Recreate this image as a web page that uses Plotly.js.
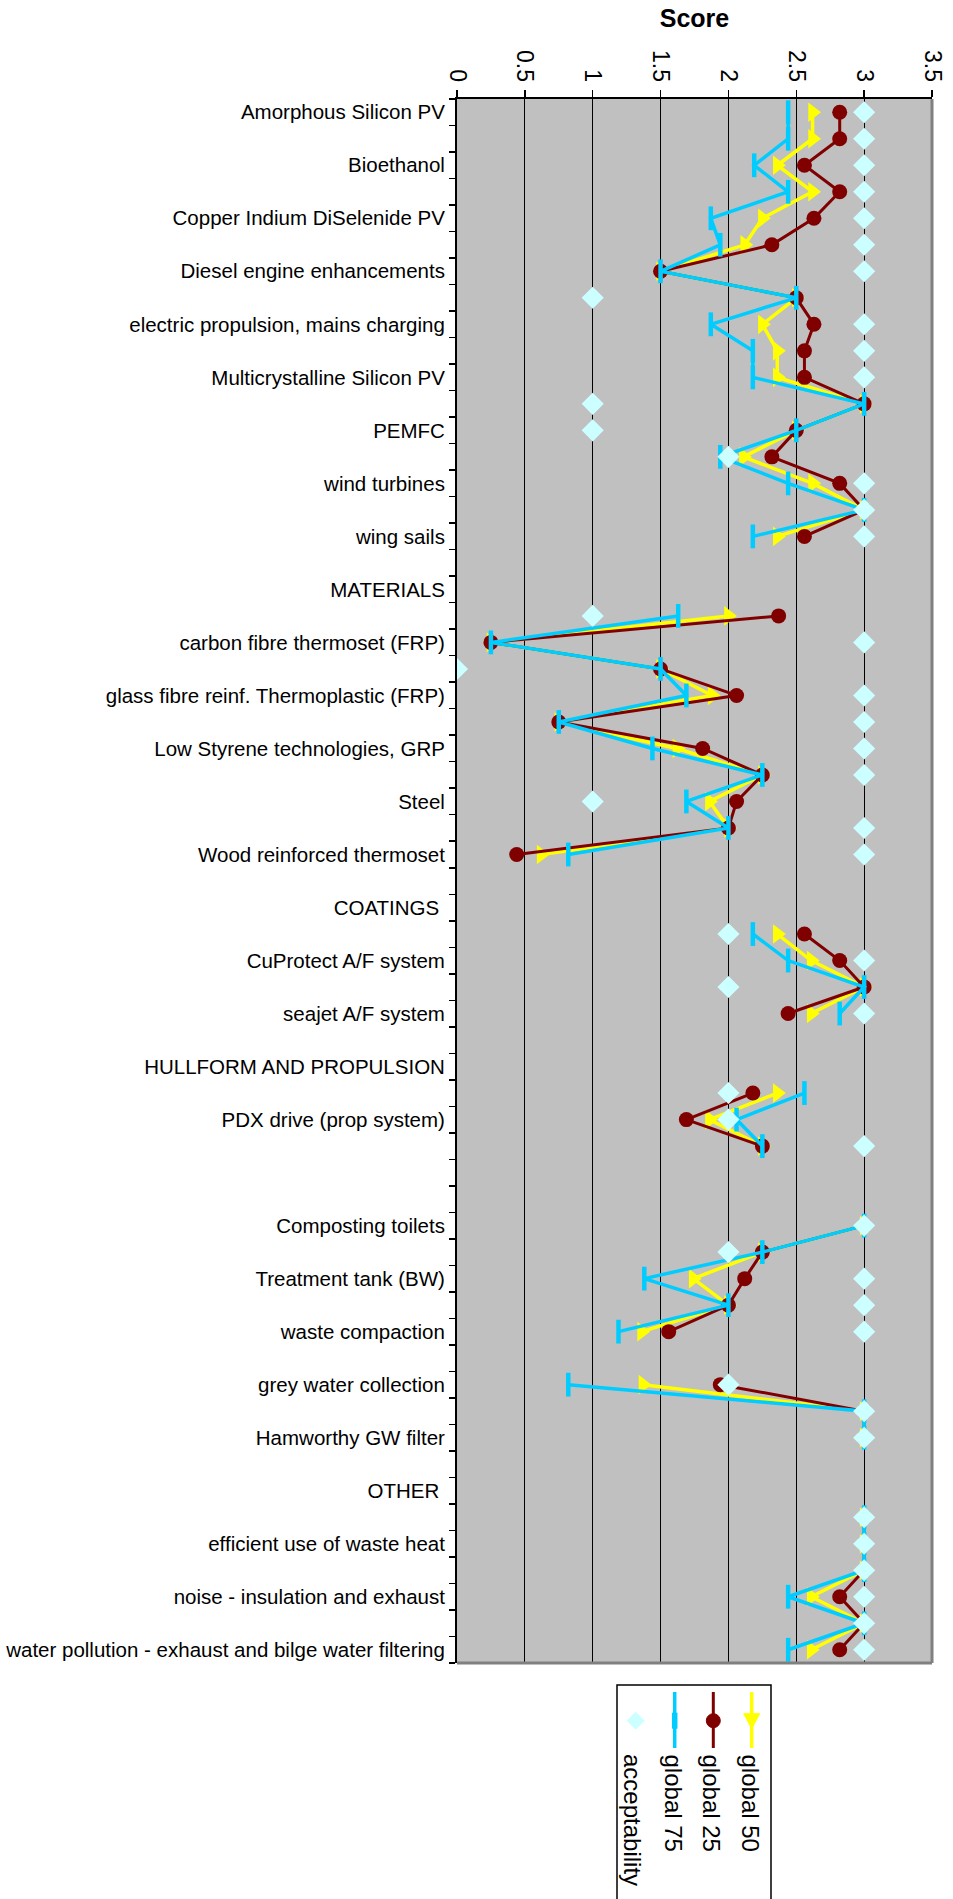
<!DOCTYPE html>
<html>
<head>
<meta charset="utf-8">
<script src="https://cdn.plot.ly/plotly-3.0.1.min.js"></script>
<style>html,body{margin:0;padding:0;background:#fff;}#chart{width:953px;height:1899px;}</style>
</head>
<body>
<div id="chart"></div>
<script>
// Category labels (every other category carries a visible label)
const categories = [
  "Amorphous Silicon PV", "",
  "Bioethanol", "",
  "Copper Indium DiSelenide PV", "",
  "Diesel engine enhancements", "",
  "electric propulsion, mains charging", "",
  "Multicrystalline Silicon PV", "",
  "PEMFC", "",
  "wind turbines", "",
  "wing sails", "",
  "MATERIALS", "",
  "carbon fibre thermoset (FRP)", "",
  "glass fibre reinf. Thermoplastic (FRP)", "",
  "Low Styrene technologies, GRP", "",
  "Steel", "",
  "Wood reinforced thermoset", "",
  "COATINGS ", "",
  "CuProtect A/F system", "",
  "seajet A/F system", "",
  "HULLFORM AND PROPULSION", "",
  "PDX drive (prop system)", "",
  "", "",
  "Composting toilets", "",
  "Treatment tank (BW)", "",
  "waste compaction", "",
  "grey water collection", "",
  "Hamworthy GW filter", "",
  "OTHER ", "",
  "efficient use of waste heat", "",
  "noise - insulation and exhaust", "",
  "water pollution - exhaust and bilge water filtering"
];

const global50 = [2.62,2.62,2.36,2.62,2.25,2.12,1.5,2.5,2.25,2.36,
                  2.36,3,2.5,2.11,2.62,3,2.36,null,null,2.0,
                  0.25,1.5,1.88,0.75,1.62,2.25,1.86,2.0,0.62,null,
                  null,2.36,2.61,3,2.61,null,null,2.36,1.86,2.25,
                  null,null,3,2.25,1.74,2.0,1.36,null,1.37,3,
                  3,null,null,3,3,3,2.61,3,2.61];
const global25 = [2.82,2.82,2.56,2.82,2.63,2.32,1.5,2.5,2.63,2.56,
                  2.56,3,2.5,2.32,2.82,3,2.56,null,null,2.37,
                  0.25,1.5,2.06,0.75,1.81,2.25,2.06,2.0,0.44,null,
                  null,2.56,2.82,3,2.44,null,null,2.18,1.69,2.25,
                  null,null,3,2.25,2.12,2.0,1.56,null,1.94,3,
                  3,null,null,3,3,3,2.82,3,2.82];
const global75 = [2.44,2.44,2.19,2.44,1.87,1.94,1.5,2.5,1.87,2.18,
                  2.18,3,2.5,1.94,2.44,3,2.18,null,null,1.63,
                  0.25,1.5,1.69,0.75,1.44,2.25,1.69,2.0,0.82,null,
                  null,2.18,2.44,3,2.82,null,null,2.56,2.06,2.25,
                  null,null,3,2.25,1.38,2.0,1.19,null,0.82,3,
                  3,null,null,3,3,3,2.44,3,2.44];
const acceptability = [3,3,3,3,3,3,3,1,3,3,
                       3,1,1,2,3,3,3,null,null,1,
                       3,0,3,3,3,3,1,3,3,null,
                       null,2,3,2,3,null,null,2,2,3,
                       null,null,3,2,3,3,3,null,2,3,
                       3,null,null,3,3,3,3,3,3];
const seriesNames = ["global 50", "global 25", "global 75", "acceptability"];
const xTickValues = [0, 0.5, 1, 1.5, 2, 2.5, 3, 3.5];

const rows = categories.map((_, i) => i);
const labelIdx = rows.filter(i => categories[i] !== "");

const COL50 = "#FFFF00", COL25 = "#800000", COL75 = "#00CCFF", COLACC = "#CCFFFF";

const traces = [
  {x: global50, y: rows, name: seriesNames[0], type: "scatter", mode: "lines+markers",
   line: {color: COL50, width: 3.5}, marker: {symbol: "triangle-right", size: 17, color: COL50}},
  {x: global25, y: rows, name: seriesNames[1], type: "scatter", mode: "lines+markers",
   line: {color: COL25, width: 3}, marker: {symbol: "circle", size: 15, color: COL25}},
  {x: global75, y: rows, name: seriesNames[2], type: "scatter", mode: "lines+markers",
   line: {color: COL75, width: 3.5}, marker: {symbol: "line-ns", size: 17, color: COL75, line: {color: COL75, width: 4.5}}},
  {x: acceptability, y: rows, name: seriesNames[3], type: "scatter", mode: "markers",
   marker: {symbol: "diamond", size: 17, color: COLACC}}
];

const W = 953, H = 1899, L = 457, R = 21, T = 99, B = 236;
const PW = W - L - R, PH = H - T - B;
const px = v => (v - L) / PW;
const py = v => 1 - (v - T) / PH;

const shapes = [
  {type: "line", xref: "paper", yref: "paper", x0: 1, x1: 1, y0: 0, y1: 1, line: {color: "#808080", width: 3}},
  {type: "line", xref: "paper", yref: "paper", x0: 0, x1: 1, y0: 0, y1: 0, line: {color: "#808080", width: 3}},
  // legend box
  {type: "rect", xref: "paper", yref: "paper", x0: px(617), x1: px(771), y0: py(1685), y1: py(1910),
   line: {color: "#000", width: 1.5}, fillcolor: "#fff", layer: "above"}
];
const annotations = [];
const legX = [751.7, 713.3, 674.7, 635.7];
const legTextX = [750, 711, 673, 633];
const symY = 1720.7;
// legend glyphs
shapes.push({type: "line", xref: "paper", yref: "paper", x0: px(legX[0]), x1: px(legX[0]), y0: py(1692), y1: py(1748), line: {color: COL50, width: 3.5}, layer: "above"});
shapes.push({type: "path", xref: "paper", yref: "paper", layer: "above", fillcolor: COL50, line: {color: COL50, width: 1},
  path: `M ${px(legX[0]-8)} ${py(symY-7)} L ${px(legX[0]+8)} ${py(symY-7)} L ${px(legX[0])} ${py(symY+8)} Z`});
shapes.push({type: "line", xref: "paper", yref: "paper", x0: px(legX[1]), x1: px(legX[1]), y0: py(1692), y1: py(1748), line: {color: COL25, width: 3}, layer: "above"});
shapes.push({type: "circle", xref: "paper", yref: "paper", layer: "above", fillcolor: COL25, line: {color: COL25, width: 1},
  x0: px(legX[1]-7), x1: px(legX[1]+7), y0: py(symY-7), y1: py(symY+7)});
shapes.push({type: "line", xref: "paper", yref: "paper", x0: px(legX[2]), x1: px(legX[2]), y0: py(1692), y1: py(1748), line: {color: COL75, width: 3.5}, layer: "above"});
shapes.push({type: "line", xref: "paper", yref: "paper", x0: px(legX[2]), x1: px(legX[2]), y0: py(symY-8), y1: py(symY+8), line: {color: COL75, width: 5.5}, layer: "above"});
shapes.push({type: "path", xref: "paper", yref: "paper", layer: "above", fillcolor: COLACC, line: {color: COLACC, width: 1},
  path: `M ${px(legX[3])} ${py(symY-8.5)} L ${px(legX[3]+8.5)} ${py(symY)} L ${px(legX[3])} ${py(symY+8.5)} L ${px(legX[3]-8.5)} ${py(symY)} Z`});
seriesNames.forEach((n, i) => {
  annotations.push({text: n, xref: "paper", yref: "paper", x: px(legTextX[i]), y: py(1752),
    xanchor: "center", yanchor: "top", textangle: 90, showarrow: false,
    font: {family: "Liberation Sans, Arial, sans-serif", size: 24, color: "#000"}});
});

const layout = {
  width: W, height: H,
  margin: {l: L, r: R, t: T, b: B, pad: 0},
  paper_bgcolor: "#fff",
  plot_bgcolor: "#C0C0C0",
  showlegend: false,
  font: {family: "Liberation Sans, Arial, sans-serif", color: "#000"},
  title: {text: "<b>Score</b>", x: (L + PW / 2) / W, xanchor: "center", y: 1 - 18 / H, yanchor: "middle",
          font: {size: 25, color: "#000"}},
  xaxis: {
    side: "top", range: [0, 3.5], tickvals: xTickValues, ticktext: xTickValues.map(String),
    tickangle: 90, ticks: "outside", ticklen: 7, tickcolor: "#000", tickwidth: 1.5,
    tickfont: {size: 23, color: "#000"},
    showgrid: true, gridcolor: "#000", gridwidth: 1, zeroline: false,
    showline: true, linecolor: "#000", linewidth: 2, fixedrange: true
  },
  yaxis: {
    range: [categories.length - 0.5, -0.5],
    tickmode: "array", tickvals: labelIdx, ticktext: labelIdx.map(i => categories[i]),
    ticks: "", ticklabelstandoff: 6,
    tickfont: {size: 20.5, color: "#000"},
    minor: {tick0: 0.5, dtick: 1, ticks: "outside", ticklen: 6, tickcolor: "#000", tickwidth: 1.5, showgrid: false},
    showgrid: false, zeroline: false,
    showline: true, linecolor: "#000", linewidth: 2, fixedrange: true
  },
  shapes: shapes,
  annotations: annotations
};

Plotly.newPlot("chart", traces, layout, {displayModeBar: false, staticPlot: true});
</script>
</body>
</html>
